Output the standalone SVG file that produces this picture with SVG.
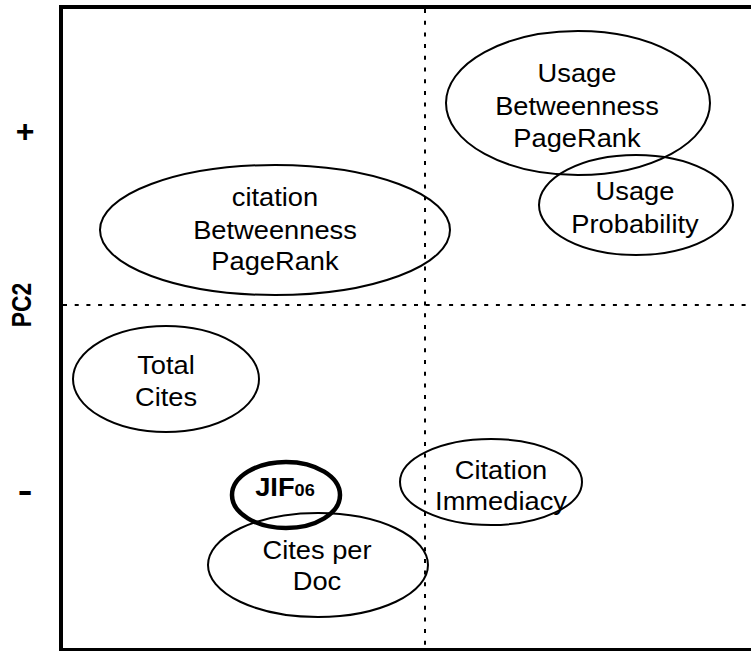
<svg xmlns="http://www.w3.org/2000/svg" width="751" height="651" viewBox="0 0 751 651">
  <style>
    .frame { stroke: #000; stroke-width: 4; fill: none; }
    .guide { stroke: #000; stroke-width: 2; stroke-dasharray: 4 7.7; fill: none; }
    .node { fill: none; stroke: #000; stroke-width: 2; }
    .node.key { stroke-width: 4.5; }
    .lbl { font-family: "Liberation Sans", Arial, sans-serif; font-size: 25.5px; fill: #000; text-anchor: middle; }
    .axis { font-family: "Liberation Sans", Arial, sans-serif; font-weight: bold; fill: #000; text-anchor: middle; }
    .bold { font-weight: bold; }
  </style>
  <rect width="751" height="651" fill="#fff"/>

  <!-- quadrant guides -->
  <g id="guides">
    <line class="guide" x1="425" y1="9" x2="425" y2="648"/>
    <line class="guide" x1="63" y1="305" x2="751" y2="305"/>
  </g>

  <!-- plot frame (open on the right) -->
  <path class="frame" d="M751,7 H61 V650 H751"/>

  <!-- axis labels -->
  <g id="axis">
    <text class="axis" font-size="32" transform="translate(25,142)">+</text>
    <text class="axis" font-size="34" transform="translate(25,502) scale(1.3,1)">-</text>
    <text class="axis" font-size="23" transform="translate(31,305) rotate(-90) scale(1,1.2)">PC2</text>
  </g>

  <g id="usage-betweenness">
    <ellipse class="node" cx="578" cy="103" rx="132" ry="72"/>
    <g transform="translate(577,0) scale(1.07,1)">
      <text class="lbl" x="0" y="82">Usage</text>
      <text class="lbl" x="0" y="115">Betweenness</text>
      <text class="lbl" x="0" y="147">PageRank</text>
    </g>
  </g>

  <g id="usage-probability">
    <ellipse class="node" cx="636" cy="205" rx="97" ry="50"/>
    <g transform="translate(635,0) scale(1.07,1)">
      <text class="lbl" x="0" y="200">Usage</text>
      <text class="lbl" x="0" y="233">Probability</text>
    </g>
  </g>

  <g id="citation-betweenness">
    <ellipse class="node" cx="275" cy="230" rx="175" ry="65"/>
    <g transform="translate(275,0) scale(1.07,1)">
      <text class="lbl" x="0" y="206">citation</text>
      <text class="lbl" x="0" y="239">Betweenness</text>
      <text class="lbl" x="0" y="270">PageRank</text>
    </g>
  </g>

  <g id="total-cites">
    <ellipse class="node" cx="166" cy="379" rx="93" ry="53"/>
    <g transform="translate(166,0) scale(1.07,1)">
      <text class="lbl" x="0" y="374">Total</text>
      <text class="lbl" x="0" y="406">Cites</text>
    </g>
  </g>

  <g id="citation-immediacy">
    <ellipse class="node" cx="491" cy="482" rx="91" ry="43"/>
    <g transform="translate(501,0) scale(1.07,1)">
      <text class="lbl" x="0" y="479">Citation</text>
      <text class="lbl" x="0" y="510">Immediacy</text>
    </g>
  </g>

  <g id="cites-per-doc">
    <ellipse class="node" cx="318" cy="565" rx="110" ry="52"/>
    <g transform="translate(317,0) scale(1.07,1)">
      <text class="lbl" x="0" y="559">Cites per</text>
      <text class="lbl" x="0" y="590">Doc</text>
    </g>
  </g>

  <g id="jif06">
    <ellipse class="node key" cx="286" cy="495" rx="54" ry="33"/>
    <g transform="translate(285,0) scale(1.07,1)">
      <text class="lbl bold" x="0" y="496">JIF<tspan font-size="17">06</tspan></text>
    </g>
  </g>
</svg>
